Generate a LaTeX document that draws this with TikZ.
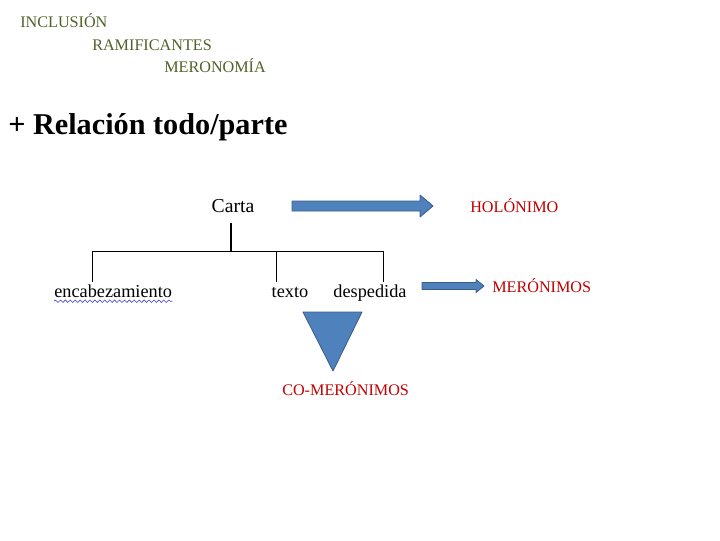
\documentclass[tikz,border=0pt]{standalone}
\usepackage{fontspec}
\setmainfont{Liberation Serif}
\usetikzlibrary{decorations.pathmorphing}
\definecolor{levgreen}{RGB}{79,98,40}
\definecolor{nymred}{RGB}{192,0,0}
\definecolor{arrfill}{RGB}{79,129,189}
\definecolor{arrdraw}{RGB}{56,93,138}
\definecolor{spellblue}{RGB}{60,60,220}

\begin{document}
\begin{tikzpicture}[x=0.025cm, y=-0.025cm,
  lvl/.style={anchor=west, inner sep=0pt, text=levgreen, font=\fontsize{11.5}{13}\selectfont},
  nym/.style={anchor=west, inner sep=0pt, text=nymred, font=\fontsize{11.5}{13}\selectfont},
  word/.style={inner sep=0pt, anchor=base, font=\fontsize{13}{15}\selectfont},
  blk/.style={fill=arrfill, draw=arrdraw, line width=0.6pt, line join=round}]
\useasboundingbox (0,0) rectangle (720,540);

% --- levels ---
\node[lvl] (incl) at (20,21) {INCLUSIÓN};
\node[lvl] (ramif) at (92,45) {RAMIFICANTES};
\node[lvl] (meron) at (164,66) {MERONOMÍA};
\node[anchor=west, inner sep=0pt, font=\fontsize{21.5}{24}\selectfont\bfseries] (title) at (8,127) {+ Relación todo/parte};

% --- the tree ---
\node[word, font=\fontsize{14}{16}\selectfont] (carta) at (233,212) {Carta};
\node[word, anchor=base west] (enc) at (54,297) {encabezamiento};
\node[word] (texto) at (290,297) {texto};
\node[word] (desp) at (370,297) {despedida};
\coordinate (b1) at (92,251);
\coordinate (b2) at (276,251);
\coordinate (b3) at (383,251);
\coordinate (top) at (231,223);

\draw[line width=1.3pt] (top) -- (top |- b1);
\draw[line width=0.6pt] (b1) -- (b3);
\draw[line width=0.6pt] (b1) -- ++(0,31);
\draw[line width=0.6pt] (b2) -- ++(0,31);
\draw[line width=0.6pt] (b3) -- ++(0,31);
\draw[spellblue, line width=0.4pt, decorate, decoration={snake, segment length=3.5, amplitude=0.9}]
  ([yshift=-3pt]enc.base west) -- ([yshift=-3pt]enc.base east);

% --- arrows and names ---
\draw[blk] (292,201) -- (420,201) -- (420,195) -- (433,206) -- (420,217) -- (420,211) -- (292,211) -- cycle;
\node[nym] (holo) at (470,206) {HOLÓNIMO};
\draw[blk] (422,282.5) -- (476,282.5) -- (476,279.5) -- (484,286) -- (476,292.5) -- (476,289.5) -- (422,289.5) -- cycle;
\node[nym] (mero) at (492,286) {MERÓNIMOS};
\draw[blk] (303,312) -- (362,312) -- (333,371) -- cycle;
\node[nym] (comero) at (282,389) {CO-MERÓNIMOS};
\end{tikzpicture}
\end{document}
